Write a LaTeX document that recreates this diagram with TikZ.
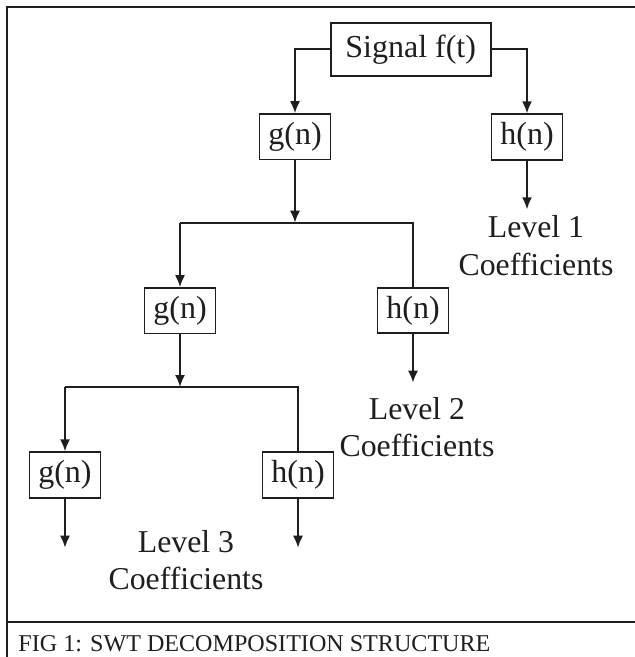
\documentclass[tikz,border=0pt]{standalone}
\usepackage{fontspec}
\setmainfont{Liberation Serif}
\usetikzlibrary{arrows.meta}
\definecolor{ink}{RGB}{30,30,30}
\begin{document}
\begin{tikzpicture}[x=1pt,y=-1pt,
  box/.style={draw=ink, text=ink, line width=1.8pt, inner sep=0pt, font=\fontsize{32}{38}\selectfont},
  fbox/.style={box, minimum width=71pt, minimum height=45.5pt},
  lbl/.style={align=center, text=ink, inner sep=0pt, font=\fontsize{31.8}{37.5}\selectfont},
  conn/.style={draw=ink, line width=1.8pt},
  arr/.style={conn, -{Latex[length=12pt,width=10pt]}},
  framel/.style={draw=ink, line width=2.4pt}]
\useasboundingbox (0,0) rectangle (635,657);
\fill[white] (0,0) rectangle (635,657);
% frame
\coordinate (ftr) at (645,7);
\coordinate (ftl) at (7,7);
\coordinate (fbl) at (7,665);
\coordinate (sl) at (7,621.7);
\coordinate (sr) at (645,621.7);
\draw[framel] (ftr) -- (ftl) -- (fbl);
\draw[framel] (sl) -- (sr);
% nodes
\node[box, minimum width=160pt, minimum height=53.3pt] (sig) at (410.7,49.3) {Signal f(t)};
\node[fbox] (g1) at (295,136.8) {g(n)};
\node[fbox] (h1) at (527,137) {h(n)};
\node[fbox] (g2) at (180,310.8) {g(n)};
\node[fbox] (h2) at (413,310.5) {h(n)};
\node[fbox] (g3) at (65,475) {g(n)};
\node[fbox] (h3) at (298,475) {h(n)};
\node[lbl] (l1) at (536,245.5) {Level 1\\Coefficients};
\node[lbl] (l2) at (417,427) {Level 2\\Coefficients};
\node[lbl] (l3) at (186,560) {Level 3\\Coefficients};
\node[anchor=base west, inner sep=0pt, text=ink, font=\fontsize{24.1}{29}\selectfont] (cap) at (18.3,651) {FIG 1: SWT DECOMPOSITION STRUCTURE};
% connectors level 1
\draw[arr] (sig.west) -| (g1.north);
\draw[arr] (sig.east) -| (h1.north);
\coordinate (e1) at (527,209.3);
\draw[arr] (h1.south) -- (e1);
% junction 1
\coordinate (j1) at (295,222.7);
\draw[arr] (g1.south) -- (j1);
\draw[conn] (h2.north) -- (h2.north |- j1) -- (g2.north |- j1);
\draw[arr] (g2.north |- j1) -- (g2.north);
\coordinate (e2) at (413,382.7);
\draw[arr] (h2.south) -- (e2);
% junction 2
\coordinate (j2) at (180,387);
\draw[arr] (g2.south) -- (j2);
\draw[conn] (h3.north) -- (h3.north |- j2) -- (g3.north |- j2);
\draw[arr] (g3.north |- j2) -- (g3.north);
\coordinate (e3g) at (65,547.7);
\coordinate (e3h) at (298,547.7);
\draw[arr] (g3.south) -- (e3g);
\draw[arr] (h3.south) -- (e3h);
\end{tikzpicture}
\end{document}
